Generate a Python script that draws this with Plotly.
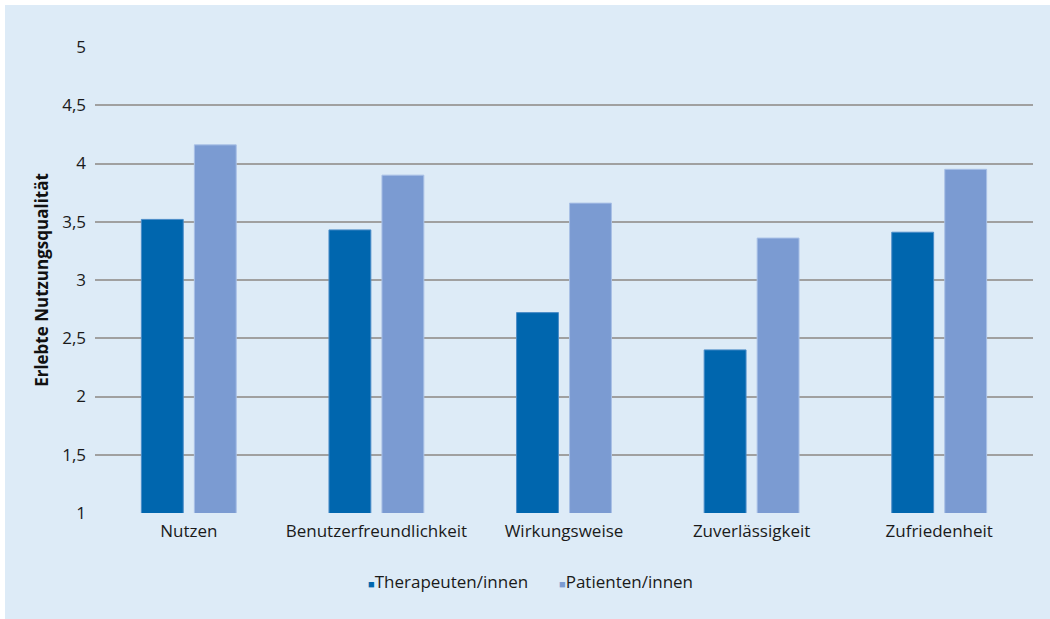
import plotly.graph_objects as go

# Bewertete Kategorien und Mittelwerte je Gruppe
kategorien = ["Nutzen", "Benutzerfreundlichkeit", "Wirkungsweise", "Zuverlässigkeit", "Zufriedenheit"]
therapeuten = [3.52, 3.43, 2.72, 2.40, 3.41]
patienten = [4.16, 3.90, 3.66, 3.36, 3.95]
y_ticks = [1, 1.5, 2, 2.5, 3, 3.5, 4, 4.5, 5]
y_tick_labels = ["1", "1,5", "2", "2,5", "3", "3,5", "4", "4,5", "5"]

FONT = "Open Sans"
BG = "#DDEBF7"
C_TH = "#0066AE"
C_PA = "#7B9BD2"
TXT = "#1a1a1a"

W, H = 1050, 619
ML, MR, MT, MB = 95, 17, 47, 106
PW, PH = W - ML - MR, H - MT - MB


def px_x(x):
    return (x - ML) / PW


def px_y(y):
    return (H - MB - y) / PH


fig = go.Figure()
fig.add_trace(go.Bar(
    x=kategorien, y=therapeuten, name="Therapeuten/innen",
    marker=dict(color=C_TH, line=dict(color="#4A8CC8", width=1)),
    showlegend=False,
))
fig.add_trace(go.Bar(
    x=kategorien, y=patienten, name="Patienten/innen",
    marker=dict(color=C_PA, line=dict(color="#A9C0E6", width=1)),
    showlegend=False,
))
# Legendeneinträge: kleines farbiges Quadrat direkt vor dem Text
for name, col in [("Therapeuten/innen", C_TH), ("Patienten/innen", C_PA)]:
    fig.add_trace(go.Scatter(
        x=[None], y=[None], mode="markers",
        name=f'<span style="color:{col};font-size:11px">■</span>{name}',
        marker=dict(symbol="square", size=1, color="rgba(0,0,0,0)"),
    ))

# Weißer Rand oben und links um den hellblauen Kasten
fig.add_shape(type="rect", xref="paper", yref="paper",
              x0=px_x(0), x1=px_x(W), y0=px_y(5), y1=px_y(0),
              fillcolor="white", line_width=0, layer="below")
fig.add_shape(type="rect", xref="paper", yref="paper",
              x0=px_x(0), x1=px_x(5), y0=px_y(H), y1=px_y(0),
              fillcolor="white", line_width=0, layer="below")

fig.update_layout(
    width=W, height=H,
    margin=dict(l=ML, r=MR, t=MT, b=MB),
    paper_bgcolor=BG, plot_bgcolor=BG,
    font=dict(family=FONT, size=17, color=TXT),
    barmode="group", bargap=0.435, bargroupgap=0.21,
    showlegend=True,
    legend=dict(
        orientation="h", x=px_x(328), xanchor="left",
        y=px_y(582), yanchor="middle",
        font=dict(family=FONT, size=17, color=TXT),
        bgcolor="rgba(0,0,0,0)", itemwidth=30, tracegroupgap=0,
        entrywidth=146, entrywidthmode="pixels",
    ),
    xaxis=dict(
        showgrid=False, showline=False, ticks="", zeroline=False,
        ticklabelstandoff=6,
        tickfont=dict(family=FONT, size=17, color=TXT),
    ),
    yaxis=dict(
        range=[1, 5], tickvals=y_ticks, ticktext=y_tick_labels,
        showgrid=True, gridcolor="#A0A0A0", gridwidth=1.5,
        zeroline=False, showline=False, ticks="",
        ticklabelstandoff=8,
        tickfont=dict(family=FONT, size=17, color=TXT),
        title=dict(text="<b>Erlebte Nutzungsqualität</b>", standoff=9,
                   font=dict(family=FONT, size=17, color="#111111")),
    ),
)

fig.write_html("out.html")
